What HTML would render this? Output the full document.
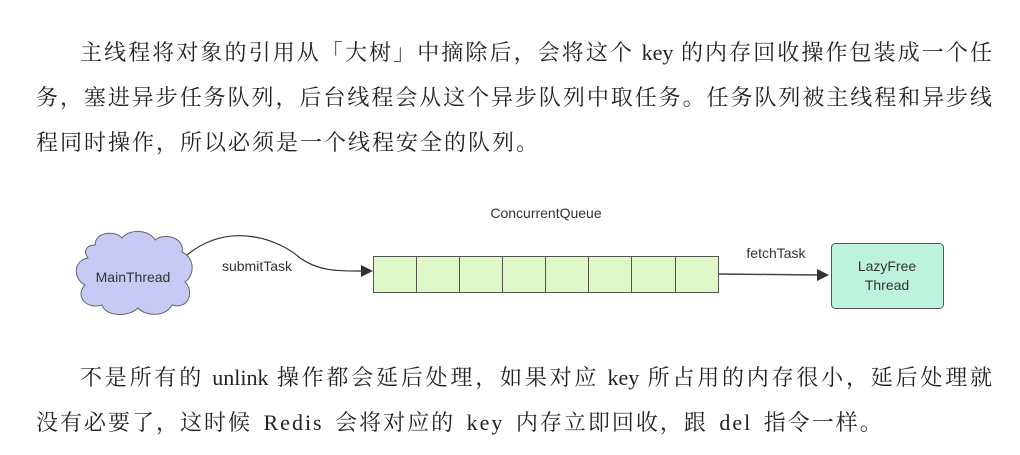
<!DOCTYPE html>
<html><head><meta charset="utf-8"><style>
body{margin:0;width:1020px;height:455px;background:#fff;position:relative;overflow:hidden;font-family:"Liberation Serif","Noto Serif CJK SC",serif;color:#222;}
.l{position:absolute;font-size:22px;white-space:nowrap;text-align:justify;text-align-last:justify;height:30px;line-height:30px;}
.s{text-align-last:auto;letter-spacing:2px;}
svg{position:absolute;left:0;top:0}
svg text{font-family:"Liberation Sans",sans-serif;font-size:14px;fill:#333}
</style></head><body>
<div class="l" style="left:80px;top:38px;width:912px">主线程将对象的引用从「大树」中摘除后，会将这个 key 的内存回收操作包装成一个任</div>
<div class="l" style="left:36px;top:83px;width:956px">务，塞进异步任务队列，后台线程会从这个异步队列中取任务。任务队列被主线程和异步线</div>
<div class="l s" style="left:36px;top:128px">程同时操作，所以必须是一个线程安全的队列。</div>
<svg width="1020" height="455">
<path d="M95,245 C95,232 115,230 122,238 C130,228 150,230 155,240 C165,232 185,238 182,252 C195,258 195,275 185,282 C195,292 188,310 172,305 C165,318 145,316 138,308 C128,318 105,316 102,305 C85,310 75,295 85,285 C72,278 74,260 88,258 C82,250 88,245 95,245Z" fill="#c9c9f5" stroke="#666" stroke-width="1"/>
<text x="133" y="282" text-anchor="middle">MainThread</text>
<path d="M187,255 C230,220 280,240 300,258 C320,272 340,271 364,271" fill="none" stroke="#333" stroke-width="1.2"/>
<polygon points="373,271 361,265 361,277" fill="#333"/>
<text x="257" y="271" text-anchor="middle">submitTask</text>
<text x="546" y="218" text-anchor="middle">ConcurrentQueue</text>
<rect x="373.5" y="256.5" width="345" height="36" fill="#dff8c8" stroke="#555"/>
<g stroke="#555"><line x1="416.5" y1="256" x2="416.5" y2="293"/><line x1="459.5" y1="256" x2="459.5" y2="293"/><line x1="502.5" y1="256" x2="502.5" y2="293"/><line x1="545.5" y1="256" x2="545.5" y2="293"/><line x1="588.5" y1="256" x2="588.5" y2="293"/><line x1="631.5" y1="256" x2="631.5" y2="293"/><line x1="675.5" y1="256" x2="675.5" y2="293"/></g>
<line x1="719" y1="274" x2="818" y2="275" stroke="#444" stroke-width="1.5"/>
<polygon points="829,275 817,269 817,281" fill="#333"/>
<text x="776" y="258" text-anchor="middle">fetchTask</text>
<rect x="831.5" y="243.5" width="112" height="65" rx="4" fill="#bdf3dc" stroke="#555"/>
<text x="887" y="271" text-anchor="middle">LazyFree</text>
<text x="887" y="290" text-anchor="middle">Thread</text>
</svg>
<div class="l" style="left:80px;top:363px;width:912px">不是所有的 unlink 操作都会延后处理，如果对应 key 所占用的内存很小，延后处理就</div>
<div class="l s" style="left:36px;top:408px;word-spacing:4px">没有必要了，这时候 Redis 会将对应的 key 内存立即回收，跟 del 指令一样。</div>
</body></html>
